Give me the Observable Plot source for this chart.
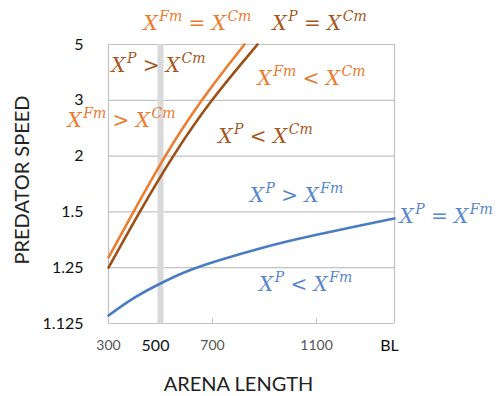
<!DOCTYPE html>
<html><head><meta charset="utf-8">
<script src="https://cdn.jsdelivr.net/npm/d3@7"></script>
<script src="https://cdn.jsdelivr.net/npm/@observablehq/plot@0.6"></script>
<style>body{margin:0;background:#fff;}</style>
</head><body><div id="chart"></div>
<script>
// ---- data ----
const orangeArena = [300, 396, 515, 654, 823];
const orangeSpeed = [1.284, 1.5, 2, 3, 5];
const brownArena = [300, 419, 546, 692, 873];
const brownSpeed = [1.25, 1.5, 2, 3, 5];
const blueArena = [300, 400, 500, 600, 700, 900, 1100, 1250, 1400];
const blueSpeed = [1.138, 1.174, 1.206, 1.240, 1.268, 1.325, 1.377, 1.417, 1.461];

const yTickValues = [1.125, 1.25, 1.5, 2, 3, 5];
const xMinorTicks = [300, 700, 1100];
const xMajorTicks = [500, 1400];
const xTickLabels = {300: "300", 500: "500", 700: "700", 1100: "1100", 1400: "BL"};
const markedArena = [500];

const labelText = ["X^{Fm} = X^{Cm}", "X^{P} = X^{Cm}", "X^{P} > X^{Cm}", "X^{Fm} > X^{Cm}",
  "X^{Fm} < X^{Cm}", "X^{P} < X^{Cm}", "X^{P} > X^{Fm}", "X^{P} = X^{Fm}", "X^{P} < X^{Fm}"];
const labelArena = [642, 1112, 492, 350, 1081, 904, 1023, 1419, 1058];
const labelSpeed = [5.76, 5.76, 3.825, 2.427, 3.404, 2.17, 1.562, 1.433, 1.188];
const labelSeries = ["orange", "brown", "brown", "orange", "orange", "brown", "blue", "blue", "blue"];
const labelAnchor = ["middle", "middle", "middle", "middle", "middle", "middle", "middle", "start", "middle"];

const lineColor = {orange: "#ED7D31", brown: "#9E4F16", blue: "#4A7CC4"};
const textColor = {orange: "#EB7A2C", brown: "#A5571E", blue: "#5686CC"};

// ---- tables ----
const mk = (arena, speed, series) => arena.map((a, i) => ({arena: a, speed: speed[i], series}));
const curves = [...mk(orangeArena, orangeSpeed, "orange"), ...mk(brownArena, brownSpeed, "brown"), ...mk(blueArena, blueSpeed, "blue")];
const labels = labelText.map((t, i) => ({text: t, arena: labelArena[i], speed: labelSpeed[i], series: labelSeries[i], anchor: labelAnchor[i]}));

const ys = d => d.speed - 1;
const grid = "#C3C3C3";

const plot = Plot.plot({
  width: 503, height: 396,
  marginLeft: 108, marginRight: 109, marginTop: 44, marginBottom: 73,
  style: {fontFamily: "Lato, 'Open Sans', sans-serif", background: "#fff"},
  x: {domain: [300, 1400]},
  y: {type: "log", domain: [0.125, 4]},
  marks: [
    Plot.ruleY(yTickValues, {y: d => d - 1, stroke: grid, strokeWidth: 1.2}),
    Plot.ruleX([300, 1400], {stroke: grid, strokeWidth: 1.2}),
    Plot.ruleX(markedArena, {stroke: "#D9D9D9", strokeWidth: 6}),
    Plot.axisY(yTickValues.map(d => d - 1), {tickSize: 0, tickPadding: 25, fontSize: 16, fill: "#111",
      tickFormat: d => String(+(d + 1).toFixed(3)), label: null}),
    Plot.axisX(xMinorTicks, {tickSize: -5, tickPadding: 22, stroke: grid, fontSize: 14, fill: "#555",
      tickFormat: d => xTickLabels[d], label: null}),
    Plot.axisX(xMajorTicks, {tickSize: 0, tickPadding: 16, fontSize: 16, fill: "#111", dx: -5,
      tickFormat: d => xTickLabels[d], label: null}),
    Plot.line(curves, {x: "arena", y: ys, z: "series", stroke: d => lineColor[d.series], strokeWidth: 2.6, curve: "basis"}),
    Plot.text(labels.filter(d => d.anchor === "middle"), {x: "arena", y: ys, text: "text", fill: d => textColor[d.series],
      textAnchor: "middle", lineAnchor: "bottom", fontSize: 20, className: "mathlabel"}),
    Plot.text(labels.filter(d => d.anchor === "start"), {x: "arena", y: ys, text: "text", fill: d => textColor[d.series],
      textAnchor: "start", lineAnchor: "bottom", fontSize: 20, className: "mathlabel"}),
    Plot.text(["PREDATOR SPEED"], {frameAnchor: "left", textAnchor: "middle", lineAnchor: "middle", dx: -86, dy: -4, rotate: -90, fontSize: 20, fill: "#222"}),
    Plot.text(["ARENA LENGTH"], {frameAnchor: "bottom", textAnchor: "middle", lineAnchor: "bottom", dx: -13, dy: 67, fontSize: 20, fill: "#222"})
  ]
});

// turn "X^{..}" markup into italic math with superscripts
const NS = "http://www.w3.org/2000/svg";
plot.querySelectorAll("g.mathlabel text").forEach(el => {
  const s = el.textContent;
  el.textContent = "";
  el.setAttribute("font-family", "'DejaVu Serif', serif");
  const re = /X(?:\^\{([^}]*)\})?|([^X]+)/g;
  let m, pending = 0;
  const add = (txt, opts) => {
    const t = document.createElementNS(NS, "tspan");
    t.textContent = txt;
    for (const k in opts) t.setAttribute(k, opts[k]);
    el.appendChild(t);
    return t;
  };
  while ((m = re.exec(s))) {
    if (m[2] !== undefined) {
      const t = add(m[2], {"font-style": "normal"});
      if (pending) { t.setAttribute("dy", pending); pending = 0; }
    } else {
      const t = add("X", {"font-style": "italic"});
      if (pending) { t.setAttribute("dy", pending); pending = 0; }
      if (m[1] !== undefined) {
        add(m[1], {"font-style": "italic", "font-size": "14px", dy: -9, dx: 1.5});
        pending = 9;
      }
    }
  }
});

document.getElementById("chart").appendChild(plot);
</script>
</body></html>
